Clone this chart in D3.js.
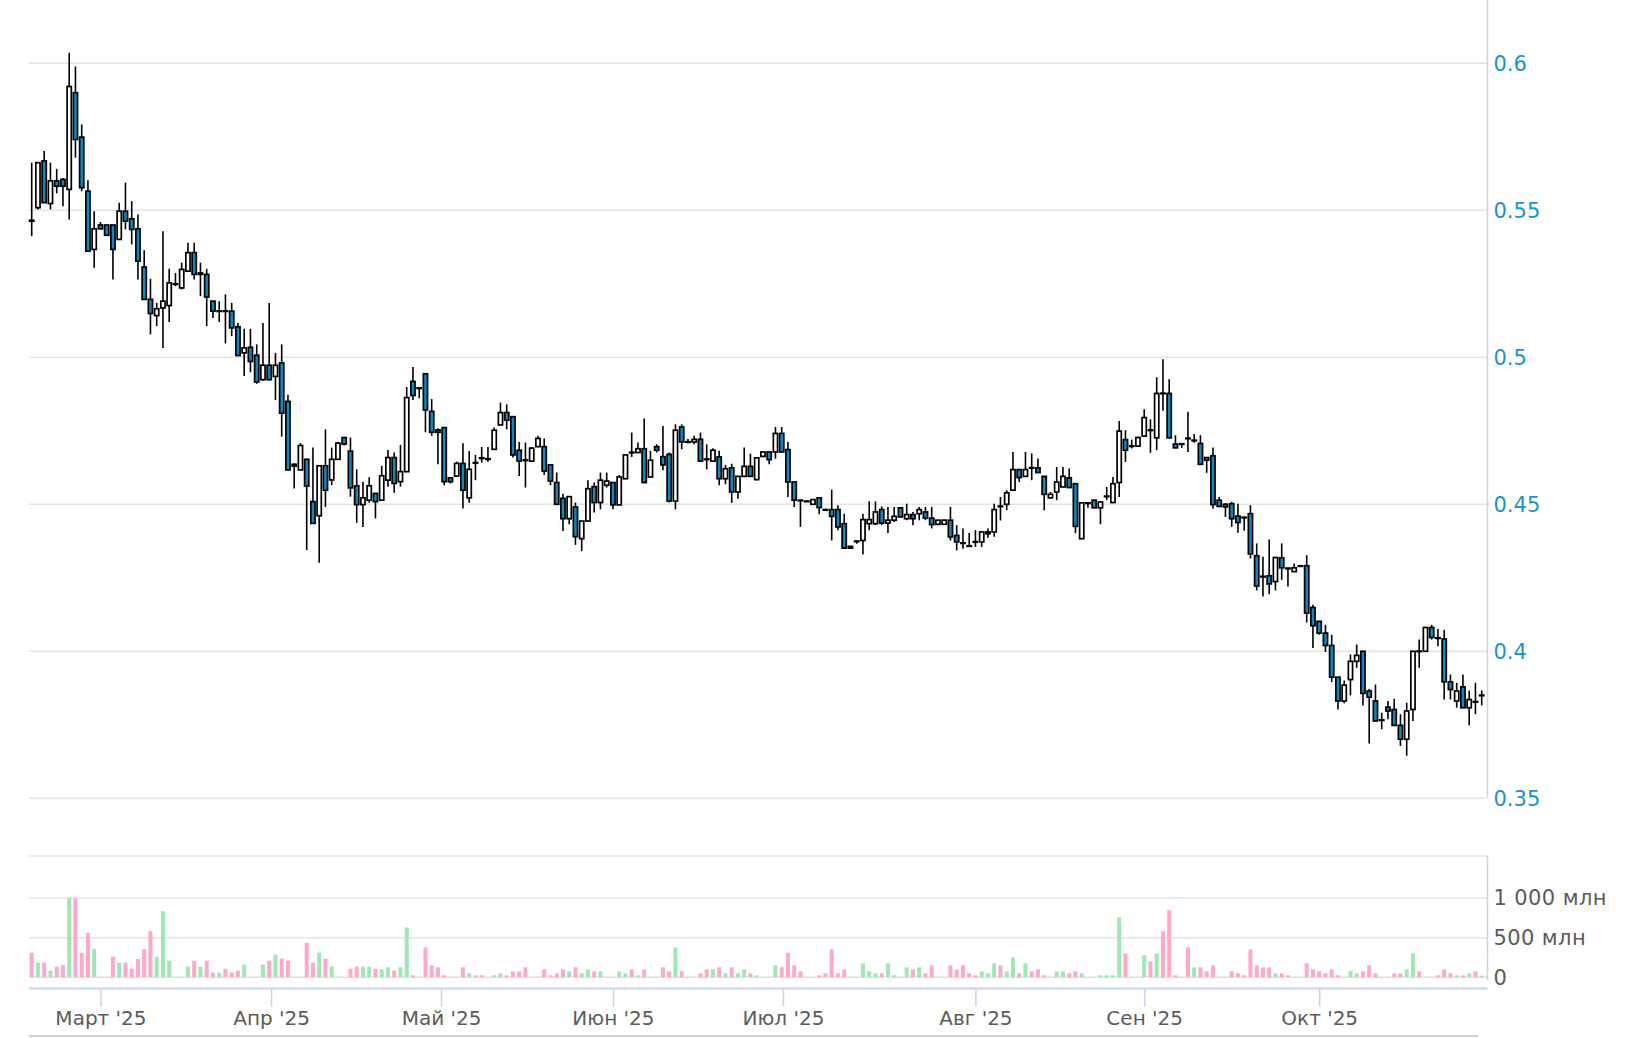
<!DOCTYPE html>
<meta charset="utf-8">
<style>
  body { margin: 0; background: #fff; }
  svg text { font-family: "DejaVu Sans", sans-serif; font-size: 20px; }
</style>
<body>
<script src="https://cdn.jsdelivr.net/npm/d3@7"></script>
<script>

var width = 1634,
    height = 1038;

// daily candles, late Feb .. late Oct 2025
var open = [
  .5466,.5509,.5668,.5523,.5600,.5605,.5571,.5900,.5749,.5565,
  .5367,.5450,.5450,.5450,.5401,.5497,.5471,.5437,.5307,.5197,
  .5142,.5168,.5176,.5250,.5236,.5293,.5356,.5282,.5282,.5191,
  .5157,.5158,.5157,.5104,.5015,.5034,.5007,.4924,.4973,.4935,
  .4981,.4850,.4636,.4617,.4653,.4509,.4461,.4631,.4583,.4653,
  .4727,.4681,.4563,.4499,.4514,.4537,.4514,.4582,.4659,.4577,
  .4611,.4918,.4896,.4944,.4816,.4753,.4761,.4590,.4596,.4639,
  .4522,.4642,.4658,.4654,.4687,.4770,.4812,.4798,.4684,.4651,
  .4647,.4696,.4696,.4634,.4574,.4520,.4451,.4491,.4383,.4443,
  .4560,.4506,.4565,.4574,.4498,.4587,.4677,.4676,.4689,.4593,
  .4696,.4662,.4670,.4511,.4763,.4713,.4712,.4721,.4654,.4647,
  .4661,.4587,.4624,.4542,.4595,.4629,.4584,.4663,.4678,.4678,
  .4741,.4686,.4576,.4514,.4511,.4500,.4522,.4482,.4482,.4482,
  .4434,.4357,.4375,.4377,.4434,.4434,.4482,.4436,.4446,.4488,
  .4451,.4465,.4468,.4474,.4453,.4432,.4432,.4446,.4394,.4369,
  .4359,.4373,.4372,.4400,.4406,.4494,.4500,.4548,.4618,.4595,
  .4625,.4624,.4595,.4522,.4542,.4559,.4590,.4570,.4383,.4505,
  .4514,.4488,.4528,.4506,.4574,.4720,.4699,.4698,.4732,.4753,
  .4726,.4878,.4877,.4705,.4706,.4725,.4718,.4707,.4659,.4665,
  .4514,.4500,.4502,.4460,.4456,.4468,.4325,.4255,.4257,.4237,
  .4318,.4283,.4271,.4291,.4291,.4149,.4102,.4062,.4020,.3912,
  .3831,.3904,.3966,.4000,.3865,.3831,.3767,.3810,.3802,.3748,
  .3701,.3802,.4001,.4000,.4081,.4046,.4042,.3896,.3831,.3879,
  .3808,.3829,.3850
];
var high = [
  .5662,.5662,.5702,.5662,.5641,.5610,.6036,.5989,.5792,.5602,
  .5497,.5460,.5450,.5450,.5526,.5594,.5531,.5486,.5364,.5267,
  .5185,.5429,.5301,.5287,.5322,.5390,.5390,.5322,.5301,.5191,
  .5191,.5214,.5185,.5117,.5097,.5097,.5044,.5117,.5185,.5015,
  .5044,.4873,.4640,.4708,.4653,.4693,.4631,.4755,.4693,.4713,
  .4727,.4727,.4619,.4577,.4592,.4537,.4631,.4685,.4676,.4702,
  .4899,.4967,.4896,.4944,.4858,.4759,.4761,.4590,.4645,.4708,
  .4681,.4668,.4695,.4695,.4761,.4846,.4840,.4798,.4712,.4710,
  .4695,.4733,.4724,.4634,.4608,.4536,.4526,.4506,.4443,.4582,
  .4574,.4608,.4608,.4574,.4600,.4668,.4744,.4710,.4792,.4682,
  .4704,.4766,.4676,.4772,.4772,.4722,.4733,.4744,.4704,.4691,
  .4682,.4634,.4638,.4595,.4693,.4672,.4658,.4678,.4678,.4763,
  .4763,.4712,.4576,.4516,.4514,.4516,.4522,.4485,.4550,.4497,
  .4468,.4357,.4377,.4468,.4510,.4510,.4493,.4491,.4491,.4491,
  .4502,.4474,.4491,.4491,.4491,.4443,.4448,.4491,.4429,.4418,
  .4402,.4412,.4406,.4418,.4502,.4525,.4548,.4678,.4618,.4678,
  .4673,.4656,.4595,.4542,.4627,.4627,.4622,.4570,.4505,.4508,
  .4514,.4508,.4559,.4593,.4783,.4752,.4720,.4730,.4823,.4789,
  .4932,.4993,.4925,.4735,.4706,.4815,.4739,.4735,.4659,.4693,
  .4525,.4504,.4508,.4502,.4458,.4497,.4367,.4322,.4380,.4319,
  .4367,.4284,.4299,.4292,.4327,.4158,.4102,.4090,.4056,.3912,
  .3901,.3989,.4023,.4000,.3872,.3887,.3791,.3831,.3839,.3786,
  .3825,.4000,.4040,.4081,.4090,.4076,.4073,.3921,.3893,.3921,
  .3867,.3893,.3867
];
var low = [
  .5412,.5503,.5526,.5503,.5558,.5514,.5469,.5679,.5565,.5361,
  .5305,.5435,.5415,.5265,.5401,.5435,.5384,.5265,.5197,.5078,
  .5106,.5032,.5120,.5242,.5231,.5293,.5265,.5208,.5106,.5134,
  .5120,.5047,.5072,.5006,.4936,.4949,.4910,.4920,.4920,.4855,
  .4730,.4617,.4554,.4617,.4344,.4435,.4301,.4491,.4565,.4653,
  .4700,.4526,.4437,.4423,.4505,.4452,.4514,.4560,.4539,.4560,
  .4611,.4855,.4861,.4745,.4733,.4636,.4565,.4571,.4594,.4486,
  .4505,.4582,.4642,.4645,.4687,.4770,.4755,.4659,.4596,.4557,
  .4647,.4696,.4600,.4565,.4500,.4409,.4432,.4362,.4341,.4443,
  .4472,.4483,.4557,.4483,.4498,.4587,.4661,.4676,.4574,.4593,
  .4676,.4616,.4506,.4483,.4687,.4708,.4704,.4647,.4619,.4647,
  .4565,.4568,.4505,.4519,.4595,.4595,.4582,.4660,.4636,.4655,
  .4678,.4525,.4491,.4423,.4509,.4500,.4466,.4478,.4377,.4412,
  .4351,.4351,.4366,.4329,.4412,.4429,.4429,.4402,.4440,.4457,
  .4446,.4429,.4446,.4446,.4418,.4429,.4432,.4377,.4343,.4349,
  .4355,.4355,.4355,.4386,.4390,.4445,.4480,.4548,.4576,.4595,
  .4582,.4608,.4480,.4520,.4514,.4559,.4557,.4402,.4383,.4488,
  .4488,.4432,.4514,.4506,.4525,.4644,.4690,.4696,.4732,.4675,
  .4684,.4818,.4726,.4692,.4692,.4678,.4709,.4636,.4607,.4485,
  .4490,.4457,.4423,.4403,.4410,.4316,.4207,.4186,.4194,.4207,
  .4243,.4220,.4271,.4288,.4098,.4011,.4056,.3998,.3895,.3802,
  .3823,.3850,.3944,.3816,.3686,.3763,.3735,.3769,.3748,.3678,
  .3645,.3763,.3944,.4000,.4040,.4017,.3836,.3836,.3808,.3808,
  .3748,.3786,.3816
];
var close = [
  .5463,.5662,.5526,.5600,.5582,.5582,.5921,.5741,.5577,.5361,
  .5437,.5437,.5415,.5367,.5497,.5463,.5435,.5327,.5197,.5149,
  .5165,.5191,.5253,.5250,.5299,.5356,.5282,.5287,.5205,.5157,
  .5158,.5157,.5100,.5006,.5032,.4986,.4916,.4973,.4924,.4973,
  .4810,.4617,.4630,.4700,.4562,.4435,.4631,.4548,.4653,.4708,
  .4705,.4556,.4499,.4522,.4563,.4509,.4597,.4659,.4571,.4611,
  .4863,.4870,.4895,.4821,.4745,.4745,.4577,.4577,.4639,.4548,
  .4619,.4640,.4657,.4655,.4752,.4812,.4786,.4668,.4647,.4650,
  .4691,.4724,.4613,.4579,.4500,.4451,.4526,.4390,.4443,.4553,
  .4506,.4582,.4579,.4498,.4593,.4668,.4676,.4689,.4574,.4650,
  .4684,.4634,.4511,.4752,.4712,.4712,.4721,.4647,.4653,.4684,
  .4587,.4621,.4542,.4595,.4629,.4595,.4658,.4678,.4652,.4741,
  .4678,.4576,.4514,.4513,.4511,.4516,.4489,.4480,.4459,.4423,
  .4351,.4351,.4375,.4448,.4448,.4474,.4436,.4446,.4459,.4457,
  .4465,.4451,.4482,.4453,.4431,.4446,.4446,.4389,.4372,.4368,
  .4358,.4372,.4406,.4406,.4482,.4493,.4539,.4618,.4591,.4618,
  .4624,.4608,.4534,.4534,.4576,.4595,.4557,.4425,.4505,.4505,
  .4488,.4508,.4528,.4570,.4749,.4684,.4698,.4727,.4795,.4752,
  .4877,.4877,.4726,.4692,.4705,.4724,.4718,.4636,.4650,.4499,
  .4493,.4491,.4451,.4438,.4455,.4331,.4222,.4254,.4229,.4319,
  .4284,.4282,.4284,.4291,.4130,.4087,.4062,.4020,.3912,.3831,
  .3885,.3966,.3986,.3857,.3844,.3763,.3766,.3797,.3748,.3701,
  .3797,.4000,.4000,.4081,.4047,.4045,.3896,.3870,.3865,.3808,
  .3836,.3828,.3851
];
// volume, millions
var volume = [
  310,184,184,84,134,155,1000,995,310,561,
  356,5,5,260,184,184,109,230,356,582,
  260,834,209,5,5,134,209,134,209,59,
  59,109,59,84,159,5,5,159,209,285,
  235,209,5,5,436,184,310,235,134,5,
  5,109,134,134,134,109,100,126,84,126,
  629,25,5,377,151,126,25,5,5,126,
  50,25,25,5,25,50,25,75,75,126,
  5,5,100,25,50,100,75,126,50,100,
  75,75,5,5,75,50,100,25,100,5,
  5,126,75,377,75,5,5,50,100,100,
  126,50,126,50,100,50,25,5,5,151,
  126,310,151,75,5,5,25,50,352,50,
  100,5,5,176,75,50,50,176,25,5,
  126,100,126,50,151,5,5,151,100,151,
  50,25,75,50,176,151,75,251,50,176,
  75,100,25,5,75,75,50,75,50,5,
  5,25,25,25,756,302,5,5,277,202,
  302,580,845,25,5,378,126,126,76,151,
  5,5,76,50,25,353,151,126,126,50,
  50,25,5,5,176,101,76,50,101,25,
  5,76,50,76,151,50,5,5,50,50,
  101,302,76,5,5,25,101,50,25,25,
  50,76,20
];

var monthLabels = ["Март '25", "Апр '25", "Май '25", "Июн '25", "Июл '25", "Авг '25", "Сен '25", "Окт '25"];
var monthPos = [11, 38.3, 65.5, 93, 120.2, 151, 178, 206];   // month start, in candle index units
var priceTicks = [0.35, 0.4, 0.45, 0.5, 0.55, 0.6];
var volumeTicks = [0, 500, 1000];

var n = close.length;
var candles = d3.range(n).map(function(i) {
  return {i: i, o: open[i], h: high[i], l: low[i], c: close[i], v: volume[i]};
});

var left = 29, right = 1487.5;

var x = d3.scaleLinear().domain([0, n - 1]).range([31.7, 1481.7]);
var y = d3.scaleLinear().domain([0.35, 0.6]).range([798.3, 63.3]);
var yVol = d3.scaleLinear().domain([0, 1000]).range([977.3, 898]);

var blue = "#1187c4",
    axisCol = "#c8d4e9",
    gridCol = "#e4e4e4",
    textGrey = "#5b5b5b";

var svg = d3.select("body").append("svg")
    .attr("width", width)
    .attr("height", height);

// grid
svg.append("g").selectAll("line")
    .data(priceTicks)
  .enter().append("line")
    .attr("x1", left).attr("x2", right)
    .attr("y1", d => y(d)).attr("y2", d => y(d))
    .attr("stroke", gridCol).attr("stroke-width", 1.5);

svg.append("g").selectAll("line")
    .data(volumeTicks)
  .enter().append("line")
    .attr("x1", left).attr("x2", right)
    .attr("y1", d => yVol(d)).attr("y2", d => yVol(d))
    .attr("stroke", gridCol).attr("stroke-width", 1.5);

// volume panel top edge
svg.append("line")
    .attr("x1", left).attr("x2", right)
    .attr("y1", 856).attr("y2", 856)
    .attr("stroke", gridCol).attr("stroke-width", 1.5);

// right axis lines
svg.append("line")
    .attr("x1", right).attr("x2", right)
    .attr("y1", 0).attr("y2", 797)
    .attr("stroke", axisCol).attr("stroke-width", 1.5);
svg.append("line")
    .attr("x1", right).attr("x2", right)
    .attr("y1", 856).attr("y2", 980)
    .attr("stroke", axisCol).attr("stroke-width", 1.5);

// volume bars
svg.append("g").selectAll("rect")
    .data(candles)
  .enter().append("rect")
    .attr("x", d => x(d.i) - 2)
    .attr("width", 4)
    .attr("y", d => yVol(d.v))
    .attr("height", d => yVol(0) - yVol(d.v))
    .attr("fill", d => d.c >= d.o ? "#9fe8b3" : "#ffa9c8");

// candles
var g = svg.append("g").selectAll("g")
    .data(candles)
  .enter().append("g");

g.append("line")
    .attr("x1", d => x(d.i)).attr("x2", d => x(d.i))
    .attr("y1", d => y(d.h)).attr("y2", d => y(d.l))
    .attr("stroke", "#000").attr("stroke-width", 1.6);

g.append("rect")
    .attr("x", d => x(d.i) - 2.1)
    .attr("width", 4.2)
    .attr("y", d => y(Math.max(d.o, d.c)))
    .attr("height", d => Math.max(Math.abs(y(d.o) - y(d.c)), 0.6))
    .attr("fill", d => d.c >= d.o ? "#fff" : blue)
    .attr("stroke", "#000").attr("stroke-width", 1.7);

// price axis
var yAxis = svg.append("g")
    .attr("transform", "translate(" + right + ",0)")
    .call(d3.axisRight(y).tickValues(priceTicks).tickSize(0).tickPadding(6)
      .tickFormat(d => String(+d.toFixed(2))));
yAxis.select(".domain").remove();
yAxis.selectAll("text")
    .attr("fill", "#1a93c8")
    .style("font-size", "21px")
    .style("font-family", "'DejaVu Sans', sans-serif");

// volume axis
var ru = d3.formatLocale({decimal: ".", thousands: " ", grouping: [3], currency: ["", ""]});
var volAxis = svg.append("g")
    .attr("transform", "translate(" + right + ",0)")
    .call(d3.axisRight(yVol).tickValues(volumeTicks).tickSize(0).tickPadding(6)
      .tickFormat(d => d === 0 ? "0" : ru.format(",")(d) + " млн"));
volAxis.select(".domain").remove();
volAxis.selectAll("text")
    .attr("fill", textGrey)
    .style("font-size", "21px")
    .style("font-family", "'DejaVu Sans', sans-serif")
    .style("letter-spacing", "0.4px")
    .style("white-space", "pre");

// time axis
var xAxis = svg.append("g")
    .attr("transform", "translate(0,988.5)")
    .call(d3.axisBottom(x).tickValues(monthPos).tickSize(18).tickPadding(4)
      .tickFormat((d, i) => monthLabels[i]));
xAxis.select(".domain")
    .attr("d", "M" + left + ",0H" + right)
    .attr("stroke", axisCol).attr("stroke-width", 2);
xAxis.selectAll(".tick line").attr("stroke", axisCol).attr("stroke-width", 1.5);
xAxis.selectAll("text")
    .attr("fill", textGrey)
    .style("font-size", "20px")
    .style("font-family", "'DejaVu Sans', sans-serif");

// bottom scroller edge
svg.append("line")
    .attr("x1", left).attr("x2", 1478)
    .attr("y1", 1036).attr("y2", 1036)
    .attr("stroke", "#d0d0d0").attr("stroke-width", 2);

</script>
